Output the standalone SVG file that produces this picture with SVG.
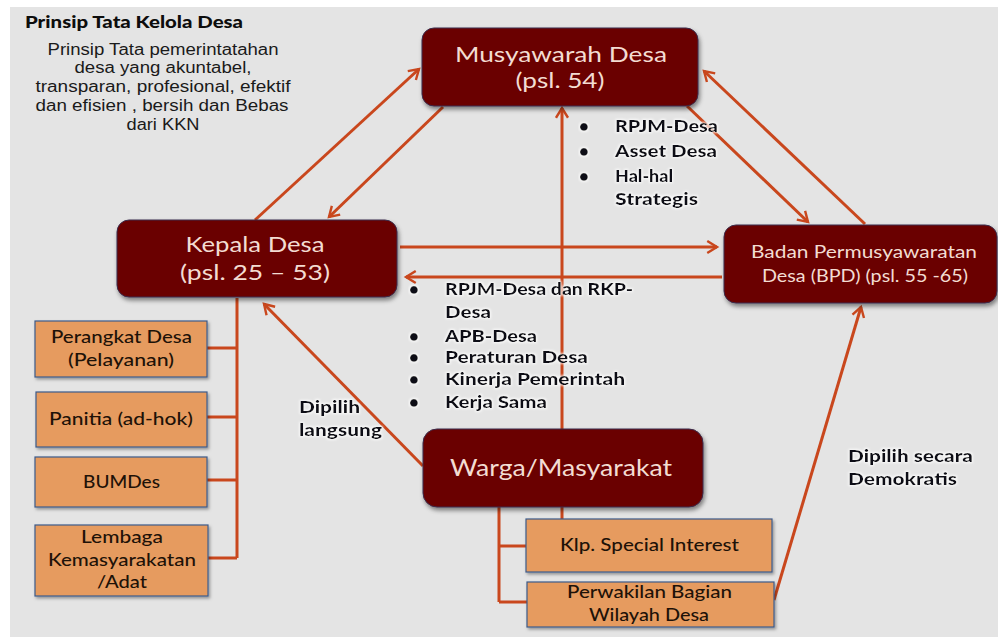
<svg xmlns="http://www.w3.org/2000/svg" width="998" height="637" viewBox="0 0 998 637">
<defs>
<style>
.bg{fill:#e4e4e4}
.dr{fill:#6b0000;stroke:#3a2a4a;stroke-width:1;filter:url(#sh)}
.or{fill:#e69b5f;stroke:#3d5a8a;stroke-width:1.2;filter:url(#sh2)}
.tl{font-family:Lato,"Open Sans",sans-serif;fill:#f3dcd2;text-anchor:middle}
.to{font-family:Lato,"Open Sans",sans-serif;fill:#1e1208;text-anchor:middle;font-size:16.5px;font-weight:500}
.tb{font-family:Lato,"Open Sans",sans-serif;font-weight:900;fill:#0d0d14;font-size:17px;filter:url(#glow)}
.body{font-family:"Liberation Sans",Arial,sans-serif;fill:#1a1a1a;font-size:16px;text-anchor:middle}
.c{stroke:#c9471d;stroke-width:3;fill:none}
.a{marker-end:url(#arr)}
</style>
<marker id="arr" viewBox="0 0 10 10" refX="8" refY="5" markerWidth="5" markerHeight="5" orient="auto" markerUnits="strokeWidth">
<path d="M1.5,1 L8,5 L1.5,9" fill="none" stroke="#c9471d" stroke-width="1.6"/>
</marker>
<filter id="sh" x="-10%" y="-10%" width="125%" height="135%">
<feDropShadow dx="1.5" dy="3" stdDeviation="2" flood-color="#000" flood-opacity="0.45"/>
</filter>
<filter id="sh2" x="-10%" y="-10%" width="125%" height="135%">
<feDropShadow dx="1.5" dy="2" stdDeviation="1.5" flood-color="#000" flood-opacity="0.35"/>
</filter>
<filter id="glow" x="-5%" y="-20%" width="110%" height="150%">
<feMorphology in="SourceAlpha" operator="dilate" radius="1" result="d"/>
<feGaussianBlur in="d" stdDeviation="1" result="b"/>
<feFlood flood-color="#ffffff" flood-opacity="0.8"/>
<feComposite in2="b" operator="in" result="w"/>
<feMerge><feMergeNode in="w"/><feMergeNode in="SourceGraphic"/></feMerge>
</filter>
</defs>
<rect x="0" y="0" width="998" height="637" fill="#ffffff"/>
<rect class="bg" x="10" y="7" width="988" height="630"/>

<g id="principles">
<text x="25" y="28" font-family="Lato,'Open Sans',sans-serif" font-weight="900" font-size="16.5" fill="#0d0d0d" textLength="218" lengthAdjust="spacingAndGlyphs">Prinsip Tata Kelola Desa</text>
<text class="body" x="163" y="55" textLength="231" lengthAdjust="spacingAndGlyphs">Prinsip Tata pemerintatahan</text>
<text class="body" x="163" y="73" textLength="177" lengthAdjust="spacingAndGlyphs">desa yang akuntabel,</text>
<text class="body" x="163" y="92" textLength="255" lengthAdjust="spacingAndGlyphs">transparan, profesional, efektif</text>
<text class="body" x="162" y="111" textLength="253" lengthAdjust="spacingAndGlyphs">dan efisien , bersih dan Bebas</text>
<text class="body" x="163" y="130" textLength="73" lengthAdjust="spacingAndGlyphs">dari KKN</text>
</g>

<g id="connectors">
<line class="c a" x1="255" y1="220" x2="419" y2="69"/>
<line class="c a" x1="443" y1="107" x2="329" y2="217"/>
<line class="c a" x1="687" y1="106" x2="808" y2="222"/>
<line class="c a" x1="865" y1="224" x2="704" y2="71"/>
<line class="c a" x1="400" y1="247" x2="717" y2="247"/>
<line class="c a" x1="722" y1="277" x2="406" y2="277"/>
<line class="c a" x1="562" y1="429" x2="562" y2="108"/>
<line class="c a" x1="423" y1="466" x2="264" y2="304"/>
<line class="c a" x1="774" y1="600" x2="861" y2="307"/>
<path class="c" d="M237,298 V558 M207,348 H237 M207,417 H237 M207,480 H237 M207,558 H237"/>
<path class="c" d="M499,507 V602 M499,546 H526 M499,602 H527 M562,507 V519"/>
</g>

<g id="musyawarah">
<rect class="dr" x="422" y="28" width="276" height="78" rx="12"/>
<text class="tl" x="561" y="62" font-size="21.5" textLength="212" lengthAdjust="spacingAndGlyphs">Musyawarah Desa</text>
<text class="tl" x="560" y="88" font-size="21.5" textLength="89" lengthAdjust="spacingAndGlyphs">(psl. 54)</text>
</g>

<g id="kepala">
<rect class="dr" x="117" y="220" width="280" height="77" rx="12"/>
<text class="tl" x="255" y="252" font-size="22" textLength="139" lengthAdjust="spacingAndGlyphs">Kepala Desa</text>
<text class="tl" x="255" y="280" font-size="22" textLength="150" lengthAdjust="spacingAndGlyphs">(psl. 25 – 53)</text>
</g>

<g id="bpd">
<rect class="dr" x="724" y="225" width="273" height="78" rx="12"/>
<text class="tl" x="864" y="258" font-size="18" textLength="226" lengthAdjust="spacingAndGlyphs">Badan Permusyawaratan</text>
<text class="tl" x="865" y="282" font-size="18" textLength="206" lengthAdjust="spacingAndGlyphs">Desa (BPD) (psl. 55 -65)</text>
</g>

<g id="warga">
<rect class="dr" x="423" y="429" width="280" height="78" rx="14"/>
<text class="tl" x="561" y="476" font-size="24" textLength="222" lengthAdjust="spacingAndGlyphs">Warga/Masyarakat</text>
</g>

<g id="klp">
<rect class="or" x="526" y="519" width="246" height="53"/>
<text class="to" x="649.5" y="551" font-size="18.5" textLength="179" lengthAdjust="spacingAndGlyphs">Klp. Special Interest</text>
</g>

<g id="perwakilan">
<rect class="or" x="527" y="582" width="247" height="45"/>
<text class="to" x="649.5" y="598" font-size="17.5" textLength="165" lengthAdjust="spacingAndGlyphs">Perwakilan Bagian</text>
<text class="to" x="649" y="621" font-size="17.5" textLength="120" lengthAdjust="spacingAndGlyphs">Wilayah Desa</text>
</g>

<g id="perangkat">
<rect class="or" x="35" y="321" width="172" height="56" stroke="none"/>
<text class="to" x="121.5" y="343" textLength="141" lengthAdjust="spacingAndGlyphs">Perangkat Desa</text>
<text class="to" x="121" y="366" textLength="106" lengthAdjust="spacingAndGlyphs">(Pelayanan)</text>
</g>

<g id="panitia">
<rect class="or" x="36" y="392" width="171" height="55"/>
<text class="to" x="121" y="425" textLength="144" lengthAdjust="spacingAndGlyphs">Panitia (ad-hok)</text>
</g>

<g id="bumdes">
<rect class="or" x="35" y="457" width="172" height="50"/>
<text class="to" x="121.5" y="488" textLength="77" lengthAdjust="spacingAndGlyphs">BUMDes</text>
</g>

<g id="lembaga">
<rect class="or" x="35" y="525" width="173" height="71"/>
<text class="to" x="122" y="543" textLength="82" lengthAdjust="spacingAndGlyphs">Lembaga</text>
<text class="to" x="122" y="566" textLength="148" lengthAdjust="spacingAndGlyphs">Kemasyarakatan</text>
<text class="to" x="122" y="588" textLength="50" lengthAdjust="spacingAndGlyphs">/Adat</text>
</g>

<g id="labels-top">
<text class="tb" x="579" y="132">•</text>
<text class="tb" x="579" y="157">•</text>
<text class="tb" x="579" y="182">•</text>
<text class="tb" x="615" y="132" textLength="103" lengthAdjust="spacingAndGlyphs">RPJM-Desa</text>
<text class="tb" x="615" y="157" textLength="102" lengthAdjust="spacingAndGlyphs">Asset Desa</text>
<text class="tb" x="615" y="182" textLength="58" lengthAdjust="spacingAndGlyphs">Hal-hal</text>
<text class="tb" x="615" y="205" textLength="83" lengthAdjust="spacingAndGlyphs">Strategis</text>
</g>

<g id="labels-mid">
<text class="tb" x="409" y="295">•</text>
<text class="tb" x="409" y="342">•</text>
<text class="tb" x="409" y="363">•</text>
<text class="tb" x="409" y="385">•</text>
<text class="tb" x="409" y="408">•</text>
<text class="tb" x="445" y="295" textLength="188" lengthAdjust="spacingAndGlyphs">RPJM-Desa dan RKP-</text>
<text class="tb" x="445" y="318" textLength="46" lengthAdjust="spacingAndGlyphs">Desa</text>
<text class="tb" x="445" y="342" textLength="92" lengthAdjust="spacingAndGlyphs">APB-Desa</text>
<text class="tb" x="445" y="363" textLength="143" lengthAdjust="spacingAndGlyphs">Peraturan Desa</text>
<text class="tb" x="445" y="385" textLength="180" lengthAdjust="spacingAndGlyphs">Kinerja Pemerintah</text>
<text class="tb" x="445" y="408" textLength="102" lengthAdjust="spacingAndGlyphs">Kerja Sama</text>
</g>

<g id="labels-elect">
<text class="tb" x="299" y="413" textLength="61" lengthAdjust="spacingAndGlyphs">Dipilih</text>
<text class="tb" x="299" y="436" textLength="83" lengthAdjust="spacingAndGlyphs">langsung</text>
<text class="tb" x="848" y="462" textLength="125" lengthAdjust="spacingAndGlyphs">Dipilih secara</text>
<text class="tb" x="848" y="485" textLength="109" lengthAdjust="spacingAndGlyphs">Demokratis</text>
</g>
</svg>
